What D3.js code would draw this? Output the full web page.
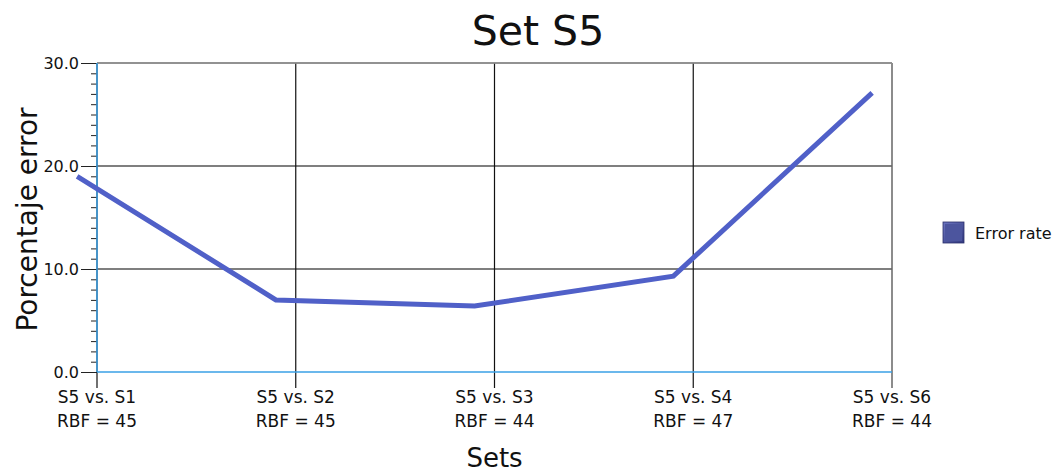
<!DOCTYPE html>
<html>
<head>
<meta charset="utf-8">
<script src="https://cdn.jsdelivr.net/npm/d3@7"></script>
<style>
  html, body { margin: 0; padding: 0; background: #fff; }
  svg { display: block; font-family: "DejaVu Sans", Verdana, sans-serif; }
</style>
</head>
<body>
<svg id="chart" width="1060" height="473"></svg>
<script>
// Comparison sets and their RBF parameter
const categories = ["S5 vs. S1", "S5 vs. S2", "S5 vs. S3", "S5 vs. S4", "S5 vs. S6"];
const rbfLabels = ["RBF = 45", "RBF = 45", "RBF = 44", "RBF = 47", "RBF = 44"];
// Error rate (%) per comparison
const errorRate = [19.0, 7.0, 6.4, 9.3, 27.1];
const yTicks = [0, 10, 20, 30];

const svg = d3.select("#chart");
const margin = { left: 97, right: 168, top: 63, bottom: 101 };
const W = 1060, H = 473;
const plotW = W - margin.left - margin.right;
const plotH = H - margin.top - margin.bottom;

const x = d3.scalePoint().domain(categories).range([0, plotW]);
const y = d3.scaleLinear().domain([0, 30]).range([plotH, 0]);
const pointShift = -0.1 * x.step();

// Gradient for the legend swatch
const defs = svg.append("defs");
const grad = defs.append("linearGradient").attr("id", "swatch").attr("x1", 0).attr("y1", 0).attr("x2", 1).attr("y2", 1);
grad.append("stop").attr("offset", "0%").attr("stop-color", "#6b74c0");
grad.append("stop").attr("offset", "100%").attr("stop-color", "#333a80");

const g = svg.append("g").attr("transform", `translate(${margin.left},${margin.top})`);

// Horizontal gridlines
g.append("g").selectAll("line").data(yTicks.filter(d => d > 0)).join("line")
  .attr("x1", 0).attr("x2", plotW)
  .attr("y1", d => y(d)).attr("y2", d => y(d))
  .attr("stroke", "#000").attr("stroke-width", 1.2);

// Vertical category gridlines, extending below the axis as ticks
g.append("g").selectAll("line").data(categories).join("line")
  .attr("x1", d => x(d)).attr("x2", d => x(d))
  .attr("y1", 0).attr("y2", plotH + 16)
  .attr("stroke", d => d === categories[categories.length - 1] ? "#666" : "#111")
  .attr("stroke-width", d => d === categories[categories.length - 1] ? 1.5 : 1.2);

// Top border
g.append("line").attr("x1", 0).attr("x2", plotW).attr("y1", 0).attr("y2", 0)
  .attr("stroke", "#999").attr("stroke-width", 1.5);

// Y axis with minor ticks every 1.0
const yAxisMinor = d3.axisLeft(y).tickValues(d3.range(0, 31, 1)).tickSize(6).tickFormat("");
g.append("g").call(yAxisMinor)
  .call(s => s.select(".domain").remove())
  .selectAll("line").attr("stroke", "#222");
const yAxis = d3.axisLeft(y).tickValues(yTicks).tickSize(16).tickPadding(2).tickFormat(d3.format(".1f"));
const ya = g.append("g").call(yAxis);
ya.select(".domain").remove();
ya.selectAll("line").attr("stroke", "#222");
ya.selectAll("text").attr("font-size", 16).attr("fill", "#111")
  .attr("font-family", "DejaVu Sans, Verdana, sans-serif");

// Axis lines in light blue
g.append("line").attr("x1", 0).attr("x2", 0).attr("y1", 0).attr("y2", plotH)
  .attr("stroke", "#3aa0e6").attr("stroke-width", 1.5);
g.append("line").attr("x1", 0).attr("x2", plotW).attr("y1", plotH).attr("y2", plotH)
  .attr("stroke", "#3aa0e6").attr("stroke-width", 1.5);

// X category labels (two lines)
const xl = g.append("g").selectAll("text").data(categories).join("text")
  .attr("x", d => x(d)).attr("y", plotH + 31)
  .attr("text-anchor", "middle").attr("font-size", 17).attr("fill", "#111");
xl.append("tspan").attr("x", d => x(d)).text(d => d);
xl.append("tspan").attr("x", d => x(d)).attr("dy", 24).text((d, i) => rbfLabels[i]);

// Error rate line
const line = d3.line()
  .x((d, i) => x(categories[i]) + pointShift)
  .y(d => y(d));
g.append("path").datum(errorRate)
  .attr("d", line)
  .attr("fill", "none").attr("stroke", "#5060c8").attr("stroke-width", 5)
  .attr("stroke-linejoin", "miter");

// Title
svg.append("text").attr("x", 538).attr("y", 45).attr("text-anchor", "middle")
  .attr("font-size", 41).attr("fill", "#111").text("Set S5");

// Axis titles
svg.append("text").attr("x", margin.left + plotW / 2).attr("y", 467).attr("text-anchor", "middle")
  .attr("font-size", 26).attr("fill", "#111").text("Sets");
svg.append("text").attr("transform", `translate(37,${margin.top + plotH / 2 + 2}) rotate(-90)`)
  .attr("text-anchor", "middle").attr("font-size", 28).attr("fill", "#111").text("Porcentaje error");

// Legend
const lg = svg.append("g").attr("transform", "translate(943,222)");
lg.append("rect").attr("width", 21).attr("height", 21).attr("fill", "url(#swatch)")
  .attr("stroke", "#2a2f6a").attr("stroke-width", 0.8);
lg.append("rect").attr("x", 2).attr("y", 2).attr("width", 17).attr("height", 17).attr("fill", "#4c559e");
lg.append("text").attr("x", 32).attr("y", 17).attr("font-size", 16).attr("fill", "#111").text("Error rate");
</script>
</body>
</html>
